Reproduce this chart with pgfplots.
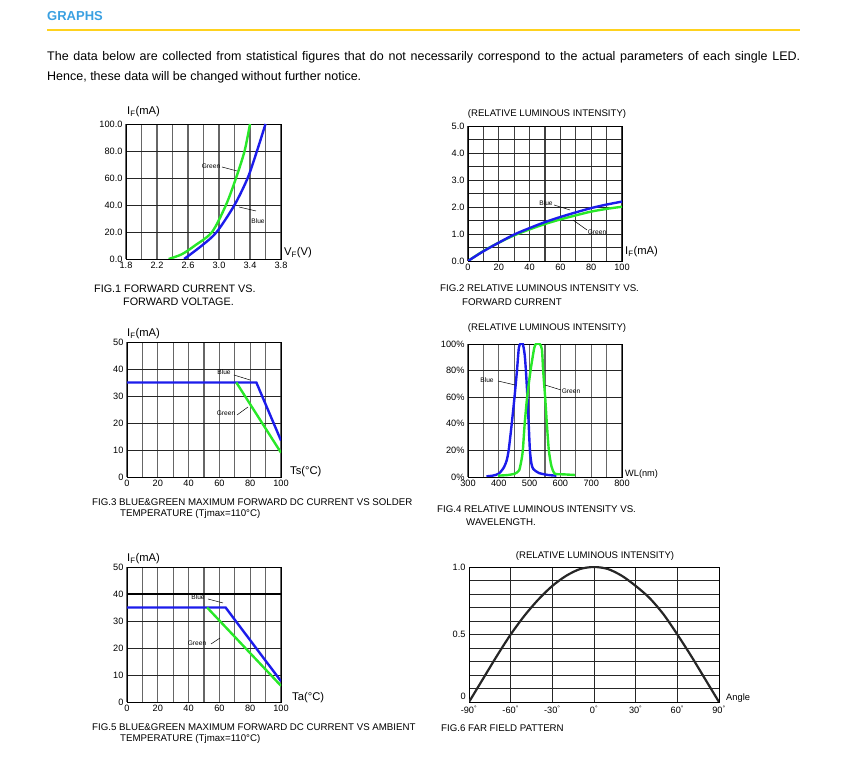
\documentclass[border=0pt]{standalone}
\usepackage{pgfplots}
\pgfplotsset{compat=1.18}
\usepackage{fontspec}
\setmainfont{Liberation Sans}
\definecolor{ledblue}{RGB}{28,28,235}
\definecolor{ledgreen}{RGB}{40,232,40}
\definecolor{hdrblue}{RGB}{58,160,225}
\definecolor{hdryellow}{RGB}{255,210,30}
\newcommand\axlab{\fontsize{11.2}{13}\selectfont}
\newcommand\capfont{\fontsize{9.7}{11}\selectfont}
\newcommand\annfont{\fontsize{6.6}{7}\selectfont}
\newcommand\ttlfont{\fontsize{9.6}{11}\selectfont}
\pgfplotsset{
  ledaxis/.style={
    scale only axis,
    axis line style={black, line width=0.9pt},
    grid=major,
    grid style={black!85, line width=0.8pt},
    x grid style={black!60, line width=1.2pt},
    major tick length=0pt,
    tick label style={font=\fontsize{9.2}{10}\selectfont},
    /pgf/number format/assume math mode=true,
  },
  blue line/.style={ledblue, line width=2.4pt},
  green line/.style={ledgreen, line width=2.4pt},
}
\begin{document}
\begin{tikzpicture}
\path[use as bounding box] (0pt,0pt) rectangle (844pt,759pt);
% header
\node[anchor=base west, inner sep=0pt, font=\fontsize{13}{14}\selectfont\bfseries, text=hdrblue] at (47pt,738pt) {GRAPHS};
\draw[hdryellow, line width=1.2pt] (47pt,729pt) -- (800pt,729pt);
\node[anchor=base west, inner sep=0pt, font=\fontsize{12.5}{14}\selectfont] at (47pt,698pt) {\makebox[753pt][s]{The data below are collected from statistical figures that do not necessarily correspond to the actual parameters of each single LED.}};
\node[anchor=base west, inner sep=0pt, font=\fontsize{12.5}{14}\selectfont] at (47pt,678pt) {Hence, these data will be changed without further notice.};

% ---------------- FIG 1
\begin{axis}[ledaxis, at={(126pt,500pt)}, anchor=south west, width=155pt, height=135pt,
  xmin=1.8, xmax=3.8, ymin=0, ymax=100,
  xtick={1.8,2.0,2.2,2.4,2.6,2.8,3.0,3.2,3.4,3.6,3.8},
  xticklabels={1.8,,2.2,,2.6,,3.0,,3.4,,3.8},
  ytick={0,20,40,60,80,100},
  yticklabels={0.0,20.0,40.0,60.0,80.0,100.0}]
\addplot[green line, smooth] coordinates {(2.35,0)(2.52,3.5)(2.69,10)(2.91,20)(3.09,40)(3.22,60)(3.33,80)(3.40,100)};
\addplot[blue line, smooth] coordinates {(2.55,0)(2.78,10)(2.97,20)(3.20,40)(3.37,60)(3.49,80)(3.60,100)};
\end{axis}
\node[anchor=west, inner sep=0pt, font=\axlab] at (127pt,647pt) {I\textsubscript{F}(mA)};
\node[anchor=west, inner sep=0pt, font=\axlab] at (284pt,506pt) {V\textsubscript{F}(V)};
\node[inner sep=0pt, font=\annfont] at (211pt,593pt) {Green};
\draw[line width=0.5pt] (222pt,592pt) -- (237pt,588pt);
\node[inner sep=0pt, font=\annfont] at (258pt,538pt) {Blue};
\draw[line width=0.5pt] (239pt,552pt) -- (256pt,548pt);
\node[anchor=west, inner sep=0pt, font=\fontsize{10.8}{12}\selectfont] at (94pt,470pt) {FIG.1 FORWARD CURRENT VS.};
\node[anchor=west, inner sep=0pt, font=\fontsize{10.8}{12}\selectfont] at (123pt,457pt) {FORWARD VOLTAGE.};

% ---------------- FIG 2
\begin{axis}[ledaxis, at={(468pt,498pt)}, anchor=south west, width=154pt, height=135pt,
  xmin=0, xmax=100, ymin=0, ymax=5,
  x grid style={black!75, line width=1.1pt},
  xtick={0,10,20,30,40,50,60,70,80,90,100},
  xticklabels={0,,20,,40,,60,,80,,100},
  ytick={0,0.5,1,1.5,2,2.5,3,3.5,4,4.5,5},
  yticklabels={0.0,,1.0,,2.0,,3.0,,4.0,,5.0}]
\addplot[green line, smooth] coordinates {(0,0)(10,0.37)(20,0.68)(30,0.95)(40,1.17)(50,1.37)(60,1.54)(70,1.69)(80,1.83)(90,1.93)(100,2.01)};
\addplot[blue line, smooth] coordinates {(0,0)(10,0.36)(20,0.68)(30,0.98)(40,1.22)(50,1.44)(60,1.63)(70,1.80)(80,1.96)(90,2.09)(100,2.20)};
\end{axis}
\node[font=\ttlfont, inner sep=0pt] at (547pt,645pt) {(RELATIVE LUMINOUS INTENSITY)};
\node[anchor=west, inner sep=0pt, font=\axlab] at (625pt,507pt) {I\textsubscript{F}(mA)};
\node[inner sep=0pt, font=\annfont] at (546pt,556pt) {Blue};
\draw[line width=0.5pt] (554pt,554pt) -- (570pt,549pt);
\node[inner sep=0pt, font=\annfont] at (597pt,527pt) {Green};
\draw[line width=0.5pt] (573pt,539pt) -- (587pt,529pt);
\node[anchor=west, inner sep=0pt, font=\capfont] at (440pt,471pt) {FIG.2 RELATIVE LUMINOUS INTENSITY VS.};
\node[anchor=west, inner sep=0pt, font=\capfont] at (462pt,457pt) {FORWARD CURRENT};

% ---------------- FIG 3
\begin{axis}[ledaxis, at={(127pt,282pt)}, anchor=south west, width=154pt, height=135pt,
  xmin=0, xmax=100, ymin=0, ymax=50,
  xtick={0,10,20,30,40,50,60,70,80,90,100},
  xticklabels={0,,20,,40,,60,,80,,100},
  ytick={0,10,20,30,40,50}]
\addplot[blue line] coordinates {(0,35)(84,35)(100,13.5)};
\addplot[green line] coordinates {(71,35)(100,9)};
\end{axis}
\node[anchor=west, inner sep=0pt, font=\axlab] at (127pt,425pt) {I\textsubscript{F}(mA)};
\node[anchor=west, inner sep=0pt, font=\axlab] at (290pt,287pt) {Ts(°C)};
\node[inner sep=0pt, font=\annfont] at (224pt,387pt) {Blue};
\draw[line width=0.5pt] (234pt,384pt) -- (250pt,379pt);
\node[inner sep=0pt, font=\annfont] at (226pt,346pt) {Green};
\draw[line width=0.5pt] (237pt,344pt) -- (248pt,352pt);
\node[anchor=west, inner sep=0pt, font=\capfont] at (92pt,257pt) {FIG.3 BLUE\&GREEN MAXIMUM FORWARD DC CURRENT VS SOLDER};
\node[anchor=west, inner sep=0pt, font=\capfont] at (120pt,245pt) {TEMPERATURE (Tjmax=110°C)};

% ---------------- FIG 4
\begin{axis}[ledaxis, at={(468pt,282pt)}, anchor=south west, width=154pt, height=133pt,
  xmin=300, xmax=800, ymin=0, ymax=100,
  xtick={300,350,400,450,500,550,600,650,700,750,800},
  xticklabels={300,,400,,500,,600,,700,,800},
  ytick={0,20,40,60,80,100},
  yticklabels={0\%,20\%,40\%,60\%,80\%,100\%}]
\addplot[blue line, smooth, tension=0.4] coordinates {(360,0.5)(380,1)(400,2.5)(416,7)(425,12)(432,20)(442,40)(451,60)(459,80)(465,97)(470,100)(478,100)(484,92)(488,80)(493,60)(497,40)(501,20)(506,10)(512,6)(530,3)(560,1.5)(587,1)};
\addplot[green line, smooth, tension=0.4] coordinates {(398,1)(430,1.5)(452,2.5)(466,5)(473,12)(478,20)(484,40)(492,60)(503,80)(515,97)(521,100)(533,100)(540,96)(544,80)(550.5,60)(556,40)(562.5,20)(571,8)(582,2.5)(610,2)(647,1.5)};
\end{axis}
\node[font=\ttlfont, inner sep=0pt] at (547pt,431pt) {(RELATIVE LUMINOUS INTENSITY)};
\node[anchor=west, inner sep=0pt, font=\fontsize{9.2}{10}\selectfont] at (625pt,285pt) {WL(nm)};
\node[inner sep=0pt, font=\annfont] at (487pt,379pt) {Blue};
\draw[line width=0.5pt] (498pt,378pt) -- (515pt,374pt);
\node[inner sep=0pt, font=\annfont] at (571pt,368pt) {Green};
\draw[line width=0.5pt] (545pt,374pt) -- (561pt,369pt);
\node[anchor=west, inner sep=0pt, font=\capfont] at (437pt,250pt) {FIG.4 RELATIVE LUMINOUS INTENSITY VS.};
\node[anchor=west, inner sep=0pt, font=\capfont] at (466pt,237pt) {WAVELENGTH.};

% ---------------- FIG 5
\begin{axis}[ledaxis, at={(127pt,57pt)}, anchor=south west, width=154pt, height=135pt,
  xmin=0, xmax=100, ymin=0, ymax=50,
  xtick={0,10,20,30,40,50,60,70,80,90,100},
  xticklabels={0,,20,,40,,60,,80,,100},
  ytick={0,10,20,30,40,50}]
\draw[black, line width=1.3pt] (axis cs:0,40) -- (axis cs:100,40);
\addplot[blue line] coordinates {(0,35)(64,35)(100,7.7)};
\addplot[green line] coordinates {(52,35)(100,6)};
\end{axis}
\node[anchor=west, inner sep=0pt, font=\axlab] at (127pt,200pt) {I\textsubscript{F}(mA)};
\node[anchor=west, inner sep=0pt, font=\axlab] at (292pt,61pt) {Ta(°C)};
\node[inner sep=0pt, font=\annfont] at (198pt,162pt) {Blue};
\draw[line width=0.5pt] (208pt,160pt) -- (223pt,156pt);
\node[inner sep=0pt, font=\annfont] at (197pt,116pt) {Green};
\draw[line width=0.5pt] (211pt,115pt) -- (220pt,121pt);
\node[anchor=west, inner sep=0pt, font=\capfont] at (92pt,32pt) {FIG.5 BLUE\&GREEN MAXIMUM FORWARD DC CURRENT VS AMBIENT};
\node[anchor=west, inner sep=0pt, font=\capfont] at (120pt,20pt) {TEMPERATURE (Tjmax=110°C)};

% ---------------- FIG 6
\begin{axis}[ledaxis, at={(469pt,57pt)}, anchor=south west, width=250pt, height=135pt,
  xmin=-90, xmax=90, ymin=0, ymax=1,
  x grid style={black!85, line width=0.9pt},
  xtick={-90,-60,-30,0,30,60,90},
  xticklabels={-90\textsuperscript{°},-60\textsuperscript{°},-30\textsuperscript{°},0\textsuperscript{°},30\textsuperscript{°},60\textsuperscript{°},90\textsuperscript{°}},
  ytick={0,0.1,0.2,0.3,0.4,0.5,0.6,0.7,0.8,0.9,1},
  yticklabels={,,,,,0.5,,,,,1.0}]
\addplot[black!85, line width=2.2pt, smooth] coordinates {(-90,0)(-80,0.17)(-70,0.34)(-60,0.5)(-50,0.64)(-40,0.76)(-30,0.86)(-20,0.935)(-10,0.985)(0,1)(10,0.985)(20,0.935)(30,0.86)(40,0.77)(50,0.65)(60,0.5)(70,0.34)(80,0.17)(90,0)};
\end{axis}
\node[anchor=east, inner sep=0pt, font=\fontsize{9.2}{10}\selectfont] at (466pt,63pt) {0};
\node[font=\ttlfont, inner sep=0pt] at (595pt,203pt) {(RELATIVE LUMINOUS INTENSITY)};
\node[anchor=west, inner sep=0pt, font=\fontsize{9.3}{10}\selectfont] at (726pt,61pt) {Angle};
\node[anchor=west, inner sep=0pt, font=\capfont] at (441pt,31pt) {FIG.6 FAR FIELD PATTERN};
\end{tikzpicture}
\end{document}
